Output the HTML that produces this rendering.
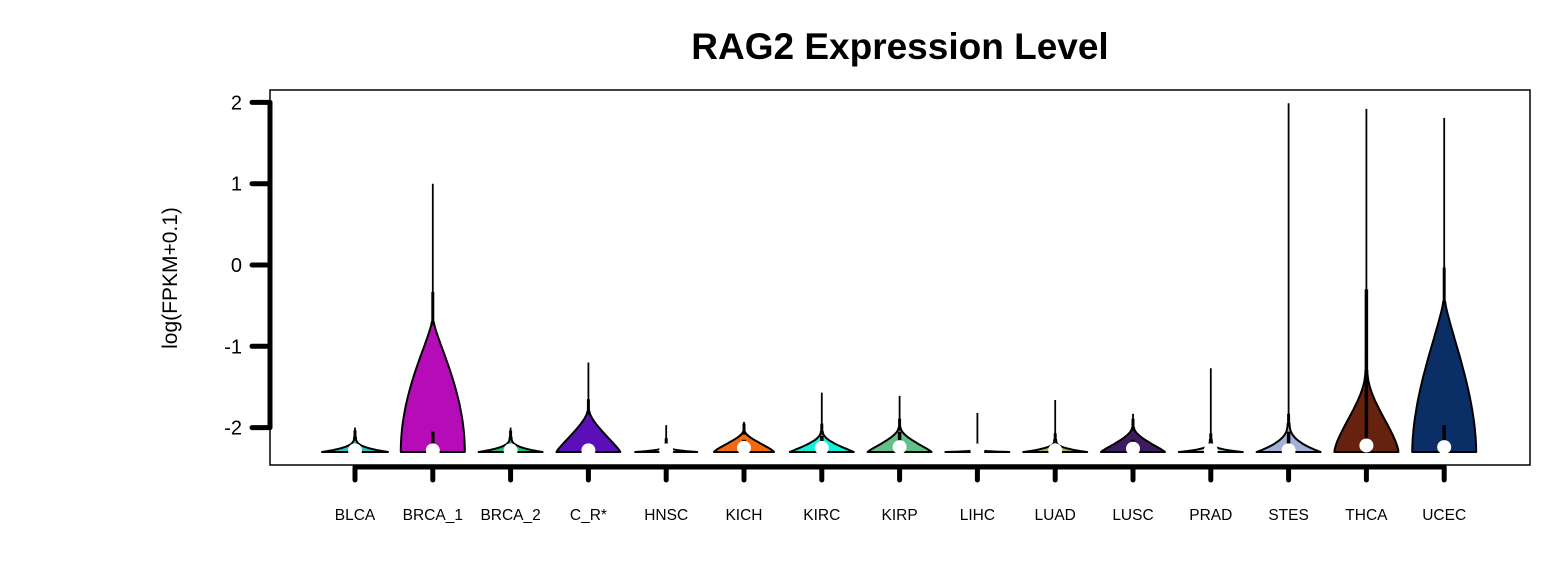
<!DOCTYPE html>
<html><head><meta charset="utf-8"><style>
body{margin:0;background:#fff;}
svg{display:block;font-family:"Liberation Sans",Arial,sans-serif;}
</style></head><body>
<svg id="chart" width="1560" height="586" viewBox="0 0 1560 586">
<text x="900" y="59" text-anchor="middle" font-size="37" font-weight="bold">RAG2 Expression Level</text>
<rect x="270" y="90" width="1260" height="375" fill="none" stroke="#000" stroke-width="1.5"/>
<text transform="translate(177,278) rotate(-90)" text-anchor="middle" font-size="21">log(FPKM+0.1)</text>
<g id="yaxis"></g>
<g id="xaxis"></g>
<g id="violins"></g>
</svg>
<script>
const categories=["BLCA","BRCA_1","BRCA_2","C_R*","HNSC","KICH","KIRC","KIRP","LIHC","LUAD","LUSC","PRAD","STES","THCA","UCEC"];
const maxVals=[-2.0,1.0,-2.0,-1.2,-1.97,-1.93,-1.57,-1.61,-1.82,-1.66,-1.83,-1.27,1.99,1.92,1.81];
const bodyTops=[-2.12,-0.7,-2.12,-1.8,-2.2,-2.05,-2.05,-2.0,-2.25,-2.15,-2.0,-2.15,-1.95,-1.3,-0.45];
const q3Vals=[-2.2,-2.05,-2.2,-2.2,-2.25,-2.15,-2.1,-2.05,-2.25,-2.2,-2.15,-2.25,-2.05,-0.3,-1.97];
const medianVals=[-2.28,-2.28,-2.28,-2.28,-2.28,-2.25,-2.25,-2.24,-2.28,-2.28,-2.26,-2.28,-2.28,-2.22,-2.24];
const halfWidths=[32,31,31,31,30,29,31,31,31,31,31,31,31,31,31];
const shapeA=[1,2,1,1.2,1,1.3,1.1,1.2,1,1,1.2,1,1,1.5,1.8];
const shapeB=[3,1.3,3,1.5,4,1.6,2,1.8,5,3,1.8,4,2.5,2,1.3];
const colors=["#2cc3c3","#b50cb8","#1fc172","#5a0fb8","#f2f08a","#f26a10","#14f0d8","#62c089","#e84060","#9ab860","#3c1c60","#a6d0de","#a2b0d8","#67220f","#0c2e66"];
const yTicks=[2,1,0,-1,-2];
const baseVal=-2.3;
const NS="http://www.w3.org/2000/svg";
const y=v=>265-v*81.3;
const x=i=>355+i*77.8;
function mk(tag,attrs,parent){const e=document.createElementNS(NS,tag);for(const k in attrs)e.setAttribute(k,attrs[k]);parent.appendChild(e);return e;}
const ya=document.getElementById('yaxis');
mk('line',{x1:270,x2:270,y1:y(2),y2:y(-2),stroke:'#000','stroke-width':5},ya);
yTicks.forEach(t=>{
 const l=mk('line',{x1:252,x2:270,y1:y(t),y2:y(t),stroke:'#000','stroke-width':5,'stroke-linecap':'round'},ya);
 
 
 const tx=mk('text',{x:242,y:y(t)+7,'text-anchor':'end','font-size':20},ya);
 tx.textContent=t;
 
 
});
const xa=document.getElementById('xaxis');
mk('line',{x1:x(0),x2:x(categories.length-1),y1:467,y2:467,stroke:'#000','stroke-width':5},xa);
const vg=document.getElementById('violins');
categories.forEach((c,i)=>{
 const t=mk('line',{x1:x(i),x2:x(i),y1:467,y2:480,stroke:'#000','stroke-width':5,'stroke-linecap':'round'},xa);
 
 
 const tx=mk('text',{x:x(i),y:520,'text-anchor':'middle','font-size':15.5},xa);
 tx.textContent=c;
 
 
 const g=mk('g',{},vg);
 
 
 const cx=x(i),hw=halfWidths[i],b0=y(baseVal),b1=y(bodyTops[i]);
 const N=40;let right=[],left=[];
 for(let k=0;k<=N;k++){const tt=k/N;const w=hw*Math.pow(Math.max(0,1-Math.pow(tt,shapeA[i])),shapeB[i])+1;const yy=b0+(b1-b0)*tt;right.push([cx+w,yy]);left.push([cx-w,yy]);}
 let d='M'+(cx-hw)+','+b0+' L'+(cx+hw)+','+b0;
 right.forEach(p=>d+=' L'+p[0].toFixed(1)+','+p[1].toFixed(1));
 left.reverse().forEach(p=>d+=' L'+p[0].toFixed(1)+','+p[1].toFixed(1));
 d+='Z';
 mk('path',{d:d,fill:colors[i],stroke:'#000','stroke-width':2,'stroke-linejoin':'round'},g);
 mk('line',{x1:cx,x2:cx,y1:y(maxVals[i]),y2:b1,stroke:'#000','stroke-width':1.8},g);
 mk('line',{x1:cx,x2:cx,y1:b1-(b0-b1)*0.2-4,y2:b1+3,stroke:'#000','stroke-width':3},g);
 mk('line',{x1:cx,x2:cx,y1:y(q3Vals[i]),y2:y(medianVals[i]),stroke:'#000','stroke-width':3.5},g);
 mk('circle',{cx:cx,cy:y(medianVals[i]),r:7,fill:'#fff'},g);
});
</script>
</body></html>
